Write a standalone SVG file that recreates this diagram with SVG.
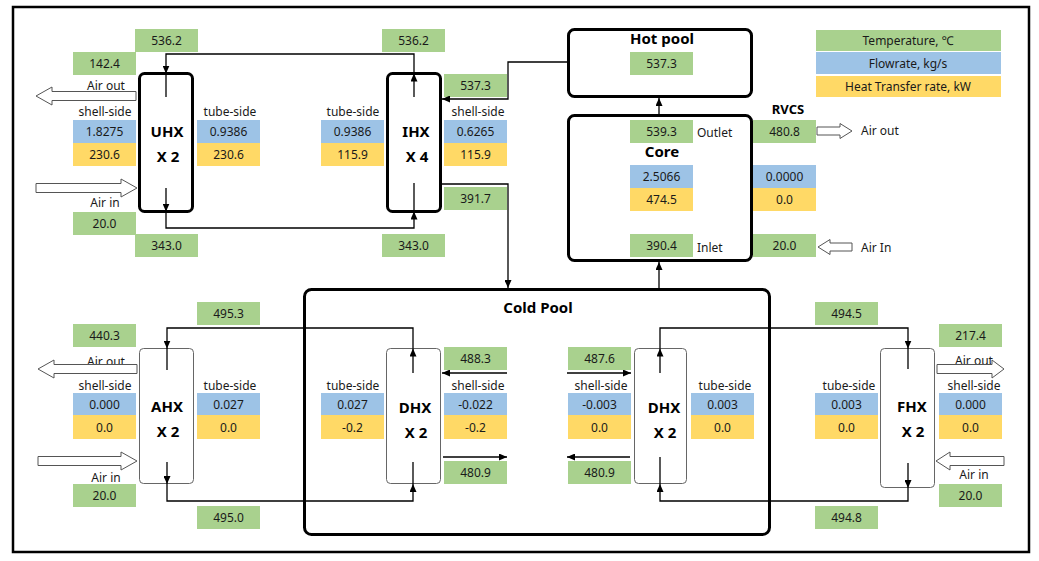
<svg xmlns="http://www.w3.org/2000/svg" width="1039" height="561" viewBox="0 0 1039 561">
<style>
.t{font-family:"Noto Sans","DejaVu Sans",sans-serif;font-size:12px;fill:#1a1a1a}
.c{text-anchor:middle}
.b{font-family:"Noto Sans","DejaVu Sans",sans-serif;font-size:15px;font-weight:bold;fill:#000;text-anchor:middle}
.g{fill:#a9d18e}
.bl{fill:#9dc3e6}
.y{fill:#ffd966}
.thick{fill:#fff;stroke:#000;stroke-width:3}
.thin{fill:#fff;stroke:#666;stroke-width:1}
.ln{fill:none;stroke:#000;stroke-width:1.3}
.ha{fill:#fff;stroke:#555;stroke-width:1}
</style>
<defs>
<marker id="ah" markerUnits="userSpaceOnUse" markerWidth="8" markerHeight="7" refX="8" refY="3.5" orient="auto">
<path d="M0,0 L8,3.5 L0,7 z" fill="#000"/>
</marker>
</defs>
<rect x="0" y="0" width="1039" height="561" fill="#fff"/>
<rect x="13" y="7" width="1016" height="545" fill="none" stroke="#000" stroke-width="2.5"/>

<g id="legend">
<rect class="g" x="816" y="30" width="185" height="21"/>
<rect class="bl" x="816" y="52" width="185" height="22"/>
<rect class="y" x="816" y="76" width="185" height="21"/>
<text class="t c" x="908" y="45">Temperature, ℃</text>
<text class="t c" x="908" y="68">Flowrate, kg/s</text>
<text class="t c" x="908" y="91">Heat Transfer rate, kW</text>
</g>

<g id="uhx">
<rect class="thick" x="139.5" y="73.5" width="53" height="138" rx="5"/>
<text class="b" x="167" y="137">UHX</text>
<text class="b" x="168" y="162">X 2</text>
<text class="t c" x="106" y="90">Air out</text>
<text class="t c" x="105" y="207">Air in</text>
<text class="t c" x="105" y="116">shell-side</text>
<text class="t c" x="230" y="116">tube-side</text>
<rect class="g" x="135" y="29" width="63" height="23"/><text class="t c" x="166.5" y="45">536.2</text>
<rect class="g" x="73" y="52" width="63" height="23"/><text class="t c" x="104.5" y="68">142.4</text>
<rect class="bl" x="73" y="120" width="63" height="23"/><text class="t c" x="104.5" y="136">1.8275</text>
<rect class="y" x="73" y="143" width="63" height="23"/><text class="t c" x="104.5" y="159">230.6</text>
<rect class="bl" x="197" y="120" width="63" height="23"/><text class="t c" x="228.5" y="136">0.9386</text>
<rect class="y" x="197" y="143" width="63" height="23"/><text class="t c" x="228.5" y="159">230.6</text>
<rect class="g" x="73" y="212" width="63" height="23"/><text class="t c" x="104.5" y="228">20.0</text>
<rect class="g" x="135" y="234" width="63" height="23"/><text class="t c" x="166.5" y="250">343.0</text>
</g>

<g id="ihx">
<rect class="thick" x="387.5" y="73.5" width="53" height="138" rx="5"/>
<text class="b" x="416" y="137">IHX</text>
<text class="b" x="417" y="162">X 4</text>
<text class="t c" x="353" y="116">tube-side</text>
<text class="t c" x="478" y="116">shell-side</text>
<rect class="g" x="382" y="29" width="63" height="23"/><text class="t c" x="413.5" y="45">536.2</text>
<rect class="g" x="444" y="74" width="63" height="23"/><text class="t c" x="475.5" y="90">537.3</text>
<rect class="bl" x="321" y="120" width="63" height="23"/><text class="t c" x="352.5" y="136">0.9386</text>
<rect class="y" x="321" y="143" width="63" height="23"/><text class="t c" x="352.5" y="159">115.9</text>
<rect class="bl" x="444" y="120" width="63" height="23"/><text class="t c" x="475.5" y="136">0.6265</text>
<rect class="y" x="444" y="143" width="63" height="23"/><text class="t c" x="475.5" y="159">115.9</text>
<rect class="g" x="444" y="187" width="63" height="23"/><text class="t c" x="475.5" y="203">391.7</text>
<rect class="g" x="382" y="234" width="63" height="23"/><text class="t c" x="413.5" y="250">343.0</text>
</g>

<g id="hotpool">
<rect class="thick" x="568.5" y="29.5" width="183" height="67" rx="6"/>
<text class="b" x="662" y="44">Hot pool</text>
<rect class="g" x="630" y="52" width="63" height="23"/><text class="t c" x="661.5" y="68">537.3</text>
</g>

<g id="core">
<rect class="thick" x="568.5" y="115.5" width="183" height="145" rx="6"/>
<text class="b" x="662" y="157">Core</text>
<rect class="g" x="630" y="120" width="63" height="23"/><text class="t c" x="661.5" y="136">539.3</text>
<text class="t" x="697" y="137">Outlet</text>
<rect class="bl" x="630" y="165" width="63" height="23"/><text class="t c" x="661.5" y="181">2.5066</text>
<rect class="y" x="630" y="188" width="63" height="23"/><text class="t c" x="661.5" y="204">474.5</text>
<rect class="g" x="630" y="234" width="63" height="23"/><text class="t c" x="661.5" y="250">390.4</text>
<text class="t" x="697" y="252">Inlet</text>
</g>

<g id="rvcs">
<text class="b" x="788" y="114" style="font-size:13px">RVCS</text>
<rect class="g" x="753" y="120" width="63" height="23"/><text class="t c" x="784.5" y="136">480.8</text>
<rect class="bl" x="753" y="165" width="63" height="23"/><text class="t c" x="784.5" y="181">0.0000</text>
<rect class="y" x="753" y="188" width="63" height="23"/><text class="t c" x="784.5" y="204">0.0</text>
<rect class="g" x="753" y="234" width="63" height="23"/><text class="t c" x="784.5" y="250">20.0</text>
<text class="t" x="861" y="135">Air out</text>
<text class="t" x="861" y="252">Air In</text>
</g>

<g id="coldpool">
<rect x="304.5" y="289.5" width="465" height="245" rx="7" fill="none" stroke="#000" stroke-width="3"/>
<text class="b" x="538" y="313">Cold Pool</text>
</g>

<g id="ahx">
<rect class="thin" x="139.5" y="348.5" width="54" height="135" rx="4"/>
<text class="b" x="167" y="412">AHX</text>
<text class="b" x="168" y="437">X 2</text>
<text class="t c" x="106" y="366">Air out</text>
<text class="t c" x="106" y="482">Air in</text>
<text class="t c" x="105" y="390">shell-side</text>
<text class="t c" x="230" y="390">tube-side</text>
<rect class="g" x="197" y="302" width="63" height="23"/><text class="t c" x="228.5" y="318">495.3</text>
<rect class="g" x="73" y="324" width="63" height="23"/><text class="t c" x="104.5" y="340">440.3</text>
<rect class="bl" x="73" y="393" width="63" height="22"/><text class="t c" x="104.5" y="408.5">0.000</text>
<rect class="y" x="73" y="415" width="63" height="24"/><text class="t c" x="104.5" y="431.5">0.0</text>
<rect class="bl" x="197" y="393" width="63" height="22"/><text class="t c" x="228.5" y="408.5">0.027</text>
<rect class="y" x="197" y="415" width="63" height="24"/><text class="t c" x="228.5" y="431.5">0.0</text>
<rect class="g" x="73" y="484" width="63" height="23"/><text class="t c" x="104.5" y="500">20.0</text>
<rect class="g" x="197" y="506" width="63" height="23"/><text class="t c" x="228.5" y="522">495.0</text>
</g>

<g id="dhx1">
<rect class="thin" x="386.5" y="348.5" width="54" height="135" rx="4"/>
<text class="b" x="415" y="413">DHX</text>
<text class="b" x="416" y="438">X 2</text>
<text class="t c" x="353" y="390">tube-side</text>
<text class="t c" x="478" y="390">shell-side</text>
<rect class="g" x="444" y="347" width="63" height="23"/><text class="t c" x="475.5" y="363">488.3</text>
<rect class="bl" x="321" y="393" width="63" height="22"/><text class="t c" x="352.5" y="408.5">0.027</text>
<rect class="y" x="321" y="415" width="63" height="24"/><text class="t c" x="352.5" y="431.5">-0.2</text>
<rect class="bl" x="444" y="393" width="63" height="22"/><text class="t c" x="475.5" y="408.5">-0.022</text>
<rect class="y" x="444" y="415" width="63" height="24"/><text class="t c" x="475.5" y="431.5">-0.2</text>
<rect class="g" x="444" y="461" width="63" height="23"/><text class="t c" x="475.5" y="477">480.9</text>
</g>

<g id="dhx2">
<rect class="thin" x="634.5" y="348.5" width="52" height="135" rx="4"/>
<text class="b" x="664" y="413">DHX</text>
<text class="b" x="665" y="438">X 2</text>
<text class="t c" x="601" y="390">shell-side</text>
<text class="t c" x="725" y="390">tube-side</text>
<rect class="g" x="568" y="347" width="63" height="23"/><text class="t c" x="599.5" y="363">487.6</text>
<rect class="bl" x="568" y="393" width="63" height="22"/><text class="t c" x="599.5" y="408.5">-0.003</text>
<rect class="y" x="568" y="415" width="63" height="24"/><text class="t c" x="599.5" y="431.5">0.0</text>
<rect class="bl" x="691" y="393" width="63" height="22"/><text class="t c" x="722.5" y="408.5">0.003</text>
<rect class="y" x="691" y="415" width="63" height="24"/><text class="t c" x="722.5" y="431.5">0.0</text>
<rect class="g" x="568" y="461" width="63" height="23"/><text class="t c" x="599.5" y="477">480.9</text>
</g>

<g id="fhx">
<rect class="thin" x="880.5" y="348.5" width="54" height="139" rx="4"/>
<text class="b" x="912" y="412">FHX</text>
<text class="b" x="913" y="437">X 2</text>
<text class="t c" x="974" y="365">Air out</text>
<text class="t c" x="974" y="479">Air in</text>
<text class="t c" x="849" y="390">tube-side</text>
<text class="t c" x="974" y="390">shell-side</text>
<rect class="g" x="815" y="302" width="63" height="23"/><text class="t c" x="846.5" y="318">494.5</text>
<rect class="g" x="939" y="324" width="63" height="23"/><text class="t c" x="970.5" y="340">217.4</text>
<rect class="bl" x="815" y="393" width="63" height="22"/><text class="t c" x="846.5" y="408.5">0.003</text>
<rect class="y" x="815" y="415" width="63" height="24"/><text class="t c" x="846.5" y="431.5">0.0</text>
<rect class="bl" x="939" y="393" width="63" height="22"/><text class="t c" x="970.5" y="408.5">0.000</text>
<rect class="y" x="939" y="415" width="63" height="24"/><text class="t c" x="970.5" y="431.5">0.0</text>
<rect class="g" x="939" y="484" width="63" height="23"/><text class="t c" x="970.5" y="500">20.0</text>
<rect class="g" x="815" y="506" width="63" height="23"/><text class="t c" x="846.5" y="522">494.8</text>
</g>

<g id="connectors">
<path class="ln" d="M414,97 V73.5" marker-end="url(#ah)"/>
<path class="ln" d="M414,73.5 V54 H166 V73.5" marker-end="url(#ah)"/>
<path class="ln" d="M166,73 V97"/>
<path class="ln" d="M166,188 V211.5" marker-end="url(#ah)"/>
<path class="ln" d="M166,211.5 V228 H414 V211.5" marker-end="url(#ah)"/>
<path class="ln" d="M414,211 V183"/>
<path class="ln" d="M568,62 H508 V99 H442" marker-end="url(#ah)"/>
<path class="ln" d="M442,184 H508 V288" marker-end="url(#ah)"/>
<path class="ln" d="M659,288 V262" marker-end="url(#ah)"/>
<path class="ln" d="M659,114 V98" marker-end="url(#ah)"/>
<path class="ln" d="M413,373 V348.5" marker-end="url(#ah)"/>
<path class="ln" d="M413,348.5 V328 H167 V348.5" marker-end="url(#ah)"/>
<path class="ln" d="M167,348 V370"/>
<path class="ln" d="M167,462 V484" marker-end="url(#ah)"/>
<path class="ln" d="M167,484 V501 H413 V484" marker-end="url(#ah)"/>
<path class="ln" d="M413,484 V462"/>
<path class="ln" d="M507,373 H442" marker-end="url(#ah)"/>
<path class="ln" d="M443,457 H507" marker-end="url(#ah)"/>
<path class="ln" d="M567,373 H631" marker-end="url(#ah)"/>
<path class="ln" d="M630,457 H567" marker-end="url(#ah)"/>
<path class="ln" d="M660,373 V348.5" marker-end="url(#ah)"/>
<path class="ln" d="M660,348.5 V328 H908 V348.5" marker-end="url(#ah)"/>
<path class="ln" d="M908,348 V369"/>
<path class="ln" d="M908,463 V488" marker-end="url(#ah)"/>
<path class="ln" d="M908,488 V501 H660 V484" marker-end="url(#ah)"/>
<path class="ln" d="M660,484 V457"/>
<polygon class="ha" points="36,96 52,87 52,91.5 136,91.5 136,100.5 52,100.5 52,105"/>
<polygon class="ha" points="137,188 121,179 121,183.5 36,183.5 36,192.5 121,192.5 121,197"/>
<polygon class="ha" points="852,131 840,123.5 840,127 817,127 817,135 840,135 840,138.5"/>
<polygon class="ha" points="818,247 830,239.5 830,243 852,243 852,251 830,251 830,254.5"/>
<polygon class="ha" points="38,369 54,360 54,364.5 137,364.5 137,373.5 54,373.5 54,378"/>
<polygon class="ha" points="137,461 121,452 121,456.5 38,456.5 38,465.5 121,465.5 121,470"/>
<polygon class="ha" points="1004,369 992,360 992,364.5 937,364.5 937,373.5 992,373.5 992,378"/>
<polygon class="ha" points="936,461 950,452 950,456.5 1004,456.5 1004,465.5 950,465.5 950,470"/>
</g>
</svg>
